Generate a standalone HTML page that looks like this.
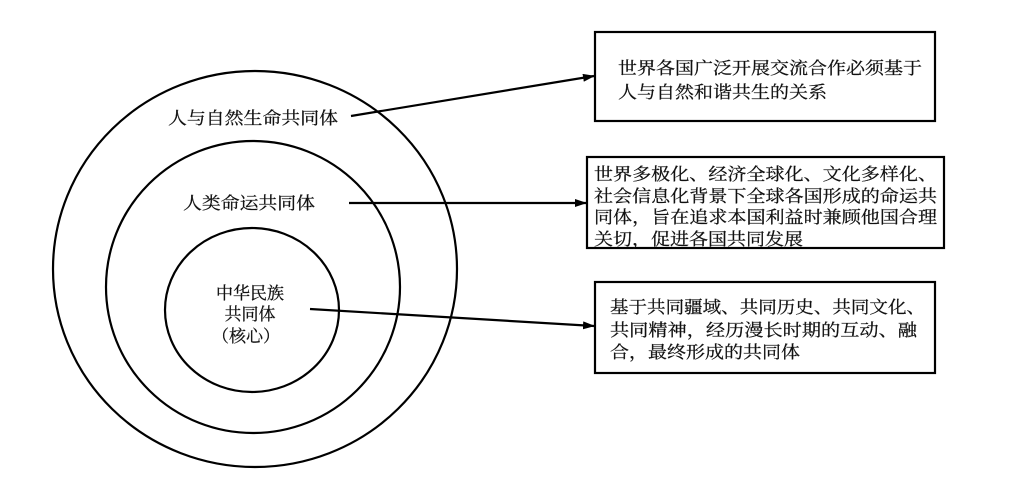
<!DOCTYPE html>
<html><head><meta charset="utf-8"><style>body{margin:0;background:#fff}svg{display:block}</style></head>
<body>
<svg width="1021" height="495" viewBox="0 0 1021 495" xmlns="http://www.w3.org/2000/svg" font-family="'Liberation Serif','Noto Serif CJK SC',serif" fill="#111">
<defs><marker id="a" markerWidth="12" markerHeight="8" refX="11" refY="4" orient="auto" markerUnits="userSpaceOnUse"><path d="M0,0 L12,4 L0,8 Z" fill="#000"/></marker></defs>
<g fill="none" stroke="#000" stroke-width="2.2">
<ellipse cx="255" cy="269" rx="202" ry="198"/>
<ellipse cx="253" cy="287" rx="147" ry="146"/>
<ellipse cx="252" cy="310" rx="87" ry="82"/>
<rect x="595" y="32" width="340" height="89"/>
<rect x="587" y="157" width="357" height="91"/>
<rect x="595" y="282" width="340" height="91"/>
<line x1="351" y1="116" x2="594" y2="76" marker-end="url(#a)"/>
<line x1="349" y1="203" x2="586" y2="203" marker-end="url(#a)"/>
<line x1="310" y1="309" x2="594" y2="326" marker-end="url(#a)"/>
</g>
<g font-size="17" stroke="#111" stroke-width="0.25">
<text x="168" y="124" textLength="170" lengthAdjust="spacingAndGlyphs">人与自然生命共同体</text>
<text x="183" y="209" textLength="132" lengthAdjust="spacingAndGlyphs">人类命运共同体</text>
<text x="250" y="299" text-anchor="middle">中华民族</text>
<text x="250" y="320" text-anchor="middle">共同体</text>
<text x="246" y="342" text-anchor="middle">（核心）</text>
<text x="618" y="74" textLength="304" lengthAdjust="spacingAndGlyphs">世界各国广泛开展交流合作必须基于</text>
<text x="618" y="98" textLength="209" lengthAdjust="spacingAndGlyphs">人与自然和谐共生的关系</text>
<text x="594" y="180" textLength="343" lengthAdjust="spacingAndGlyphs">世界多极化、经济全球化、文化多样化、</text>
<text x="594" y="202" textLength="343" lengthAdjust="spacingAndGlyphs">社会信息化背景下全球各国形成的命运共</text>
<text x="594" y="223" textLength="343" lengthAdjust="spacingAndGlyphs">同体，旨在追求本国利益时兼顾他国合理</text>
<text x="594" y="245" textLength="209" lengthAdjust="spacingAndGlyphs">关切，促进各国共同发展</text>
<text x="610" y="313" textLength="315" lengthAdjust="spacingAndGlyphs">基于共同疆域、共同历史、共同文化、</text>
<text x="610" y="336" textLength="307" lengthAdjust="spacingAndGlyphs">共同精神，经历漫长时期的互动、融</text>
<text x="610" y="358" textLength="190" lengthAdjust="spacingAndGlyphs">合，最终形成的共同体</text>
</g>
</svg>
</body></html>
